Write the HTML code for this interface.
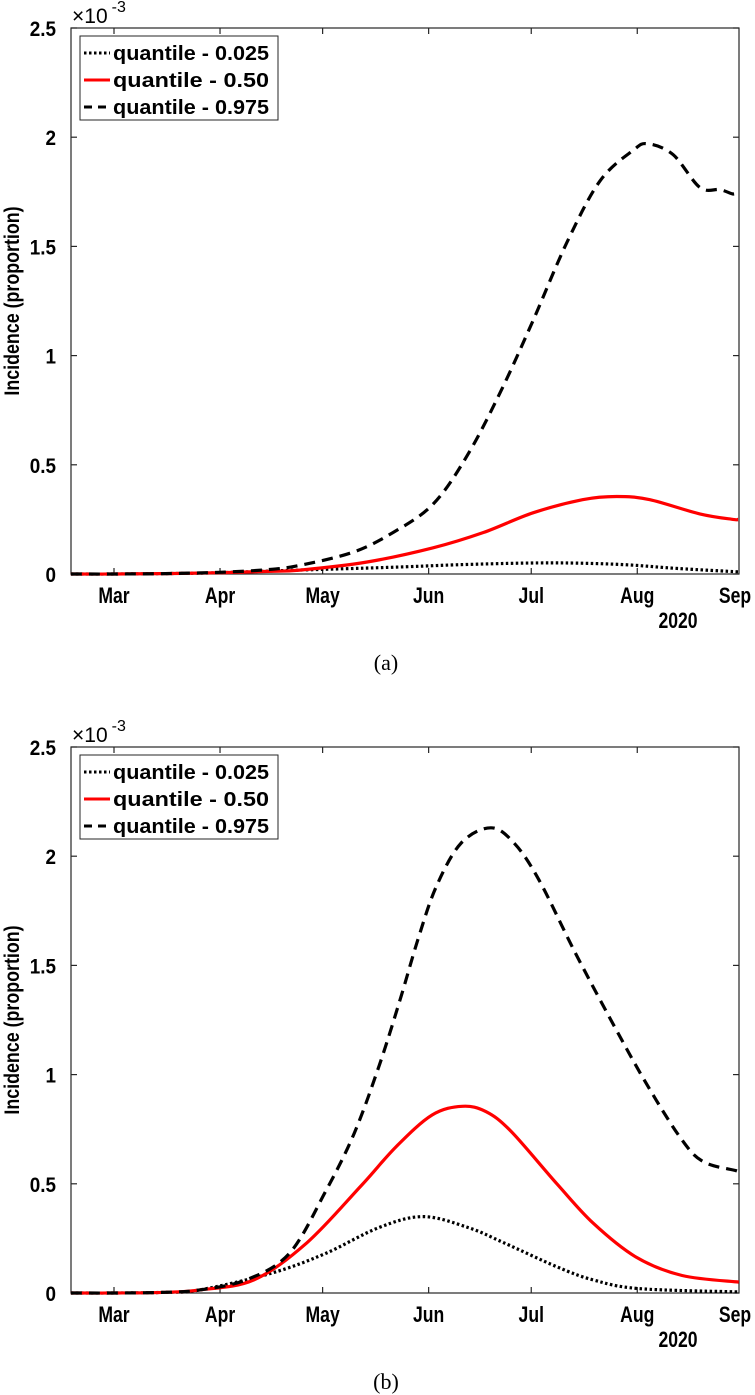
<!DOCTYPE html>
<html><head><meta charset="utf-8">
<style>
html,body{margin:0;padding:0;background:#fff;}
svg{display:block;font-family:"Liberation Sans",Arial,sans-serif;}
</style></head>
<body>
<svg id="fig" width="755" height="1395" viewBox="0 0 755 1395" xmlns="http://www.w3.org/2000/svg"></svg>
<script>
// ---- data (days since Mar 1, 2020; incidence in units of 1e-3) ----
const monthLabels = ["Mar","Apr","May","Jun","Jul","Aug","Sep"];
const monthDays = [0,31,61,92,122,153,184];
const yTicks = [0,0.5,1,1.5,2,2.5];
const yTickLabels = ["0","0.5","1","1.5","2","2.5"];
const legendLabels = ["quantile - 0.025","quantile - 0.50","quantile - 0.975"];

const aLowDays = [-12.6,0,15,31,54,80,100,120,135,150,165,182.5];
const aLowVals = [0,0,0.002,0.006,0.018,0.03,0.042,0.05,0.05,0.042,0.025,0.01];
const aMedDays = [-12.6,0,15,31,45,54.4,74,93.3,108,122.5,137,147,156.7,171.3,181,182.5];
const aMedVals = [0,0,0.002,0.006,0.012,0.018,0.055,0.12,0.19,0.28,0.34,0.355,0.34,0.275,0.25,0.25];
const aHighDays = [-12.6,0,15,31,45,54.4,69.9,81.6,93.3,103.2,112.9,122.5,132.5,142.1,151.8,156.1,163.5,171.3,177.2,181,182.5];
const aHighVals = [0,0,0.002,0.008,0.02,0.04,0.10,0.19,0.32,0.54,0.83,1.16,1.52,1.80,1.94,1.97,1.92,1.77,1.76,1.74,1.75];

const bLowDays = [-12.6,0,15,25.1,45.9,61.7,77.5,90.4,103.5,114,129.5,140.1,153.5,182.7];
const bLowVals = [0,0,0.003,0.014,0.09,0.18,0.30,0.35,0.30,0.23,0.12,0.06,0.02,0.005];
const bMedDays = [-12.6,0,15,25.1,40.9,56.4,72.2,82.5,93,101.8,108.8,116.1,129.5,140.1,152.6,166.1,182.7];
const bMedVals = [0,0,0.003,0.014,0.06,0.23,0.49,0.67,0.815,0.855,0.83,0.74,0.50,0.32,0.165,0.08,0.05];
const bHighDays = [-12.6,0,15,25.1,38.6,51.2,61.7,70.2,77.5,83.6,88.9,94.2,101.5,110.2,117,124.3,134.8,145.3,155.6,166.1,172.5,181.9,182.7];
const bHighVals = [0,0,0.003,0.014,0.06,0.18,0.46,0.73,1.04,1.34,1.62,1.86,2.06,2.13,2.06,1.89,1.56,1.25,0.96,0.70,0.60,0.56,0.55];

const NS = "http://www.w3.org/2000/svg";
const svg = document.getElementById('fig');
function mk(tag, attrs, parent){
  const e = document.createElementNS(NS, tag);
  for (const k in attrs) e.setAttribute(k, attrs[k]);
  (parent||svg).appendChild(e);
  return e;
}
// condensed bold text helper
function ctext(parent, x, y, str, size, anchor, sx){
  const t = mk('text',{transform:`translate(${x},${y}) scale(${sx||0.82},1)`,'text-anchor':anchor||'start','font-size':size,'font-weight':'bold',fill:'#000'},parent);
  t.textContent = str;
  return t;
}
const X0 = 71, X1 = 739;
function xs(d){ return 114 + d*3.42; }

function panel(off, tag, series){
  const T = 28+off, B = 574+off;
  function ys(v){ return B - v*(B-T)/2.5; }
  const g = mk('g',{});
  
  
  const box = mk('rect',{x:X0,y:T,width:X1-X0,height:B-T,fill:'none',stroke:'#262626','stroke-width':1.2},g);
  
  
  yTicks.forEach((v,i)=>{
    const y = ys(v);
    mk('line',{x1:X0,x2:X0+6,y1:y,y2:y,stroke:'#262626','stroke-width':1.2},g);
    mk('line',{x1:X1,x2:X1-6,y1:y,y2:y,stroke:'#262626','stroke-width':1.2},g);
    const t = ctext(g,56,y+8,yTickLabels[i],21,'end',0.9);
    
    
  });
  monthDays.forEach((d,i)=>{
    const x = xs(d);
    if (x < X1-2){
      mk('line',{x1:x,x2:x,y1:B,y2:B-6,stroke:'#262626','stroke-width':1.2},g);
      mk('line',{x1:x,x2:x,y1:T,y2:T+6,stroke:'#262626','stroke-width':1.2},g);
    }
    const t = ctext(g,Math.min(x,735),B+29,monthLabels[i],22,'middle',0.8);
    
    
  });
  const yr = ctext(g,678,B+54,'2020',22,'middle',0.8);
  
  
  const ex = mk('text',{x:72,y:T-5,'font-size':21,fill:'#000'},g);
  ex.innerHTML = '×10<tspan dx="4" dy="-11" font-size="16">-3</tspan>';
  
  
  const cy = (T+B)/2;
  const yl = mk('text',{x:0,y:0,transform:`translate(19,${cy}) rotate(-90) scale(0.85,1)`,'text-anchor':'middle','font-size':21,'font-weight':'bold',fill:'#000'},g);
  yl.textContent='Incidence (proportion)';
  
  
  const styles = [
    {stroke:'#000',dash:'2.5,2.5',w:3.2,name:'line-quantile-0025'},
    {stroke:'#ff0000',dash:'',w:3.2,name:'line-quantile-050'},
    {stroke:'#000',dash:'11,7',w:3.2,name:'line-quantile-0975'}
  ];
  series.forEach((s,i)=>{
    const pts = s[0].map((d,j)=>[xs(d),ys(s[1][j])]);
    let dstr = `M${pts[0][0].toFixed(1)},${pts[0][1].toFixed(1)}`;
    for (let j=0;j<pts.length-1;j++){
      const p0=pts[Math.max(j-1,0)],p1=pts[j],p2=pts[j+1],p3=pts[Math.min(j+2,pts.length-1)];
      const c1=[p1[0]+(p2[0]-p0[0])/6,p1[1]+(p2[1]-p0[1])/6];
      const c2=[p2[0]-(p3[0]-p1[0])/6,p2[1]-(p3[1]-p1[1])/6];
      dstr+=` C${c1[0].toFixed(1)},${c1[1].toFixed(1)} ${c2[0].toFixed(1)},${c2[1].toFixed(1)} ${p2[0].toFixed(1)},${p2[1].toFixed(1)}`;
    }
    const st = styles[i];
    const p = mk('path',{d:dstr,fill:'none',stroke:st.stroke,'stroke-width':st.w,'stroke-dasharray':st.dash},g);
    
    
  });
  const lg = mk('g',{},g);
  
  
  mk('rect',{x:80,y:T+8,width:198,height:84,fill:'#fff',stroke:'#262626','stroke-width':1},lg);
  legendLabels.forEach((lab,i)=>{
    const y = T+25+i*27;
    const st = styles[i];
    const dash = i===2 ? '8,6' : st.dash;
    mk('line',{x1:84,x2:110,y1:y,y2:y,stroke:st.stroke,'stroke-width':3,'stroke-dasharray':dash},lg);
    const t = mk('text',{x:113,y:y+7,'font-size':20,'font-weight':'bold',fill:'#000',textLength:156,lengthAdjust:'spacingAndGlyphs'},lg);
    t.textContent = lab;
    
    
  });
  const cap = mk('text',{x:386,y:B+96,'text-anchor':'middle','font-size':22,fill:'#000','font-family':'Liberation Serif, serif'},g);
  cap.textContent = '('+tag+')';
  
  
}
panel(0,'a',[[aLowDays,aLowVals],[aMedDays,aMedVals],[aHighDays,aHighVals]]);
panel(719,'b',[[bLowDays,bLowVals],[bMedDays,bMedVals],[bHighDays,bHighVals]]);
</script>
</body></html>
